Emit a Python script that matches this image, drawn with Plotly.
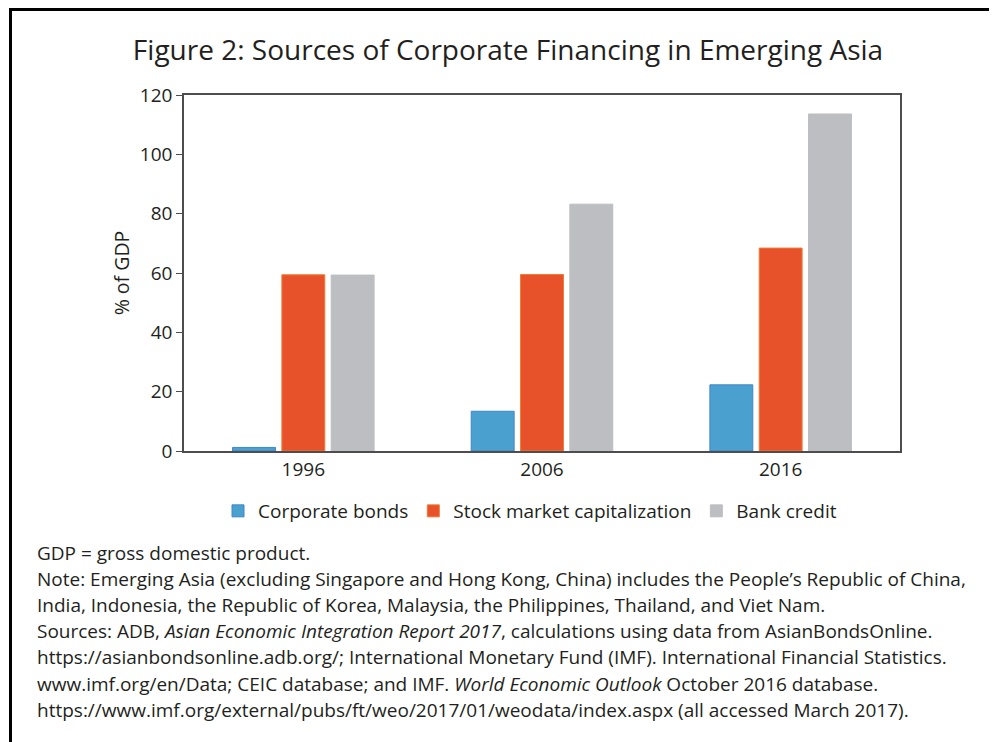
import plotly.graph_objects as go

years = ["1996", "2006", "2016"]
corporate_bonds = [1.2, 13.4, 22.3]
stock_market_cap = [59.4, 59.5, 68.4]
bank_credit = [59.3, 83.2, 113.6]

series_names = ["Corporate bonds", "Stock market capitalization", "Bank credit"]
series_colors = ["#4AA0CF", "#E8522B", "#BDBEC2"]
line_colors = ["#3F86C8", "#EE7B33", "#BDBEC2"]

footnotes = [
    "GDP = gross domestic product.",
    "Note: Emerging Asia (excluding Singapore and Hong Kong, China) includes the People\u2019s Republic of China,",
    "India, Indonesia, the Republic of Korea, Malaysia, the Philippines, Thailand, and Viet Nam.",
    "Sources: ADB, <i>Asian Economic Integration Report 2017</i>, calculations using data from AsianBondsOnline.",
    "https://asianbondsonline.adb.org/; International Monetary Fund (IMF). International Financial Statistics.",
    "www.imf.org/en/Data; CEIC database; and IMF. <i>World Economic Outlook</i> October 2016 database.",
    "https://www.imf.org/external/pubs/ft/weo/2017/01/weodata/index.aspx (all accessed March 2017).",
]

FONT = "Open Sans"
OFF = 8  # the page body adds an 8px margin, so the figure is shrunk and shifted
W, H = 997 - OFF, 742 - OFF
# plot area in page pixels: x 184..900, y 95..451
L, T = 184 - OFF, 95 - OFF
R, B = W - (900 - OFF), H - (451 - OFF)
pw, ph = W - L - R, H - T - B


def px_x(x):
    return (x - OFF - L) / pw


def px_y(y):
    return (H - B - (y - OFF)) / ph


fig = go.Figure()
for name, vals, col, lc in zip(series_names,
                               [corporate_bonds, stock_market_cap, bank_credit],
                               series_colors, line_colors):
    fig.add_trace(go.Bar(x=years, y=vals, name=name,
                         marker=dict(color=col, line=dict(color=lc, width=1))))

fig.update_layout(
    width=W, height=H,
    margin=dict(l=L, r=R, t=T, b=B),
    paper_bgcolor="white", plot_bgcolor="white",
    font=dict(family=FONT, size=19, color="#231F20"),
    barmode="group", bargap=0.38, bargroupgap=0.13,
    showlegend=True,
    legend=dict(orientation="h", x=px_x(530), xanchor="center", y=px_y(511), yanchor="middle",
                font=dict(size=19), itemwidth=30, traceorder="normal"),
    title=dict(text="Figure 2: Sources of Corporate Financing in Emerging Asia",
               x=px_x(508), xref="paper", xanchor="center", y=1 - (50 - OFF) / H, yanchor="middle",
               font=dict(size=28, color="#231F20")),
)
fig.update_xaxes(showline=True, linecolor="#4D4D4F", linewidth=1.5, mirror=True,
                 ticks="", showgrid=False, tickfont=dict(size=19))
fig.update_yaxes(range=[0, 120], dtick=20, showline=True, linecolor="#4D4D4F",
                 linewidth=1.5, mirror=True, ticks="outside", ticklen=6,
                 tickcolor="#4D4D4F", showgrid=False, zeroline=False,
                 tickfont=dict(size=19),
                 title=dict(text="% of GDP", font=dict(size=19.5), standoff=5))

# outer frame (open on the right and bottom, as in the source page crop)
fig.add_shape(type="line", xref="paper", yref="paper",
              x0=px_x(10.5), x1=px_x(10.5), y0=px_y(9), y1=px_y(760),
              line=dict(color="black", width=3))
fig.add_shape(type="line", xref="paper", yref="paper",
              x0=px_x(9), x1=px_x(1010), y0=px_y(9.5), y1=px_y(9.5),
              line=dict(color="black", width=3))

for i, line in enumerate(footnotes):
    fig.add_annotation(text=line, xref="paper", yref="paper",
                       x=px_x(35), y=px_y(553 + 26.1 * i), xanchor="left", yanchor="middle",
                       showarrow=False, font=dict(size=19, color="#231F20"))

fig.write_html("out.html")
